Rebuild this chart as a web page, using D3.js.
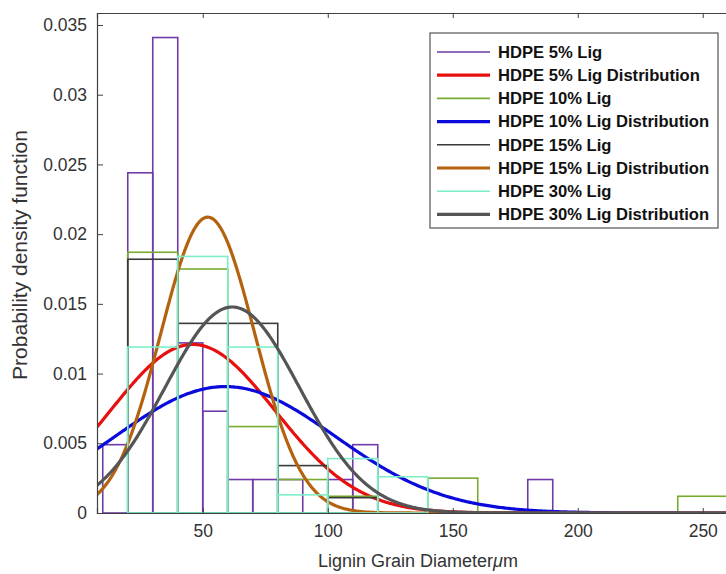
<!DOCTYPE html>
<html>
<head>
<meta charset="utf-8">
<script src="https://cdn.jsdelivr.net/npm/d3@7"></script>
<style>
  html, body { margin: 0; padding: 0; background: #fff; }
  svg { display: block; }
  text { font-family: Arial, "Liberation Sans", sans-serif; }
</style>
</head>
<body>
<svg id="chart" width="726" height="574"></svg>
<script>
// ---- Data ----
// HDPE 5% Lig histogram: bin edges (µm) and PDF values
const edges5 = [10, 20, 30, 40, 50, 60, 70, 80, 90, 100, 110, 120, 130, 140, 150, 160, 170, 180, 190];
const values5 = [0.0049, 0.0244, 0.0341, 0.0122, 0.0073, 0.0024, 0.0024, 0.0024, 0, 0.0024, 0.0049, 0, 0, 0, 0, 0, 0, 0.0024];
// HDPE 10% Lig histogram
const edges10 = [20, 40, 60, 80, 100, 120, 140, 160, 180, 200, 220, 240, 260];
const values10 = [0.0187, 0.0175, 0.0062, 0.0024, 0.0012, 0, 0.0025, 0, 0, 0, 0, 0.0012];
// HDPE 15% Lig histogram
const edges15 = [20, 40, 60, 80, 100, 120];
const values15 = [0.0182, 0.0136, 0.0136, 0.0034, 0.0011];
// HDPE 30% Lig histogram
const edges30 = [20, 40, 60, 80, 100, 120, 140];
const values30 = [0.0119, 0.0184, 0.0119, 0.0013, 0.0039, 0.0026];

// Fitted normal distributions: mean and standard deviation (µm)
const distNames = ["HDPE 5% Lig Distribution", "HDPE 10% Lig Distribution", "HDPE 15% Lig Distribution", "HDPE 30% Lig Distribution"];
const distMu = [46, 59, 52, 61.8];
const distSigma = [33, 44, 18.8, 27];

// Legend entries (in drawing order)
const legendLabels = ["HDPE 5% Lig", "HDPE 5% Lig Distribution", "HDPE 10% Lig", "HDPE 10% Lig Distribution",
                      "HDPE 15% Lig", "HDPE 15% Lig Distribution", "HDPE 30% Lig", "HDPE 30% Lig Distribution"];

// Axis ticks
const xTicks = [50, 100, 150, 200, 250];
const yTicks = [0, 0.005, 0.01, 0.015, 0.02, 0.025, 0.03, 0.035];
const yTickLabels = ["0", "0.005", "0.01", "0.015", "0.02", "0.025", "0.03", "0.035"];

// ---- Styles ----
const colHist = ["#6E3BA8", "#77AC30", "#3a3a3a", "#7DEFC8"];
const colDist = ["#E8100F", "#0A0ADC", "#B5620F", "#555555"];

// ---- Layout ----
const mLeft = 97, mTop = 13, mBottom = 513;
const xMin = 7.7, xMax = 264;
const x = d3.scaleLinear().domain([xMin, xMax]).range([mLeft, mLeft + (xMax - xMin) * 2.5]);
const y = d3.scaleLinear().domain([0, 0.03586]).range([mBottom, mTop]);
const plotRight = x(xMax);

const svg = d3.select("#chart");
svg.append("defs").append("clipPath").attr("id", "clip")
  .append("rect").attr("x", mLeft).attr("y", mTop).attr("width", plotRight - mLeft).attr("height", mBottom - mTop);

const plot = svg.append("g").attr("clip-path", "url(#clip)");

function drawHist(edges, values, color) {
  const bins = values.map((v, i) => ({x0: edges[i], x1: edges[i + 1], v})).filter(b => b.v > 0);
  plot.append("g").selectAll("rect").data(bins).join("rect")
    .attr("x", d => x(d.x0)).attr("y", d => y(d.v))
    .attr("width", d => x(d.x1) - x(d.x0)).attr("height", d => y(0) - y(d.v))
    .attr("fill", "none").attr("stroke", color).attr("stroke-width", 1.6);
}
const xs = d3.range(0, 401).map(i => xMin + (xMax - xMin) * i / 400);
function drawDist(mu, sigma, color) {
  const pdf = t => Math.exp(-((t - mu) ** 2) / (2 * sigma * sigma)) / (sigma * Math.sqrt(2 * Math.PI));
  const line = d3.line().x(t => x(t)).y(t => y(pdf(t)));
  plot.append("path").datum(xs).attr("d", line)
    .attr("fill", "none").attr("stroke", color).attr("stroke-width", 3.2).attr("stroke-linejoin", "round");
}

drawHist(edges5, values5, colHist[0]);
drawDist(distMu[0], distSigma[0], colDist[0]);
drawHist(edges10, values10, colHist[1]);
drawDist(distMu[1], distSigma[1], colDist[1]);
drawHist(edges15, values15, colHist[2]);
drawDist(distMu[2], distSigma[2], colDist[2]);
drawHist(edges30, values30, colHist[3]);
drawDist(distMu[3], distSigma[3], colDist[3]);

// ---- Axes ----
const axisCol = "#404040";
const textCol = "#333333";
const xAxisB = d3.axisBottom(x).tickValues(xTicks).tickSize(-5).tickPadding(12).tickFormat(d3.format("d"));
const gxb = svg.append("g").attr("transform", `translate(0,${mBottom})`).call(xAxisB);
const xAxisT = d3.axisTop(x).tickValues(xTicks).tickSize(-5).tickFormat("");
const gxt = svg.append("g").attr("transform", `translate(0,${mTop})`).call(xAxisT);
const yAxisL = d3.axisLeft(y).tickValues(yTicks).tickSize(-6).tickPadding(10).tickFormat((d, i) => yTickLabels[i]);
const gyl = svg.append("g").attr("transform", `translate(${mLeft},0)`).call(yAxisL);

[gxb, gxt, gyl].forEach(g => {
  g.select(".domain").attr("stroke", axisCol).attr("stroke-width", 1.2);
  g.selectAll(".tick line").attr("stroke", axisCol).attr("stroke-width", 1);
  g.selectAll(".tick text").attr("fill", textCol).attr("font-size", 17.5).attr("font-family", "Arial, 'Liberation Sans', sans-serif");
});

// Axis titles
svg.append("text").attr("x", 418).attr("y", 567).attr("text-anchor", "middle")
  .attr("fill", textCol).attr("font-size", 18)
  .call(t => { t.append("tspan").text("Lignin Grain Diameter"); t.append("tspan").attr("font-style", "italic").text("\u03BC"); t.append("tspan").text("m"); });
svg.append("text").attr("transform", `translate(27,255) rotate(-90)`)
  .attr("text-anchor", "middle").attr("fill", textCol).attr("font-size", 21)
  .text("Probability density function");

// ---- Legend ----
const lg = svg.append("g");
lg.append("rect").attr("x", 430).attr("y", 33).attr("width", 288).attr("height", 195)
  .attr("fill", "#fff").attr("stroke", "#555").attr("stroke-width", 1.2);
const legendColors = [colHist[0], colDist[0], colHist[1], colDist[1], colHist[2], colDist[2], colHist[3], colDist[3]];
const rows = lg.selectAll("g.row").data(legendLabels).join("g").attr("class", "row")
  .attr("transform", (d, i) => `translate(0,${52 + i * 23.2})`);
rows.append("line").attr("x1", 437).attr("x2", 490).attr("y1", 0).attr("y2", 0)
  .attr("stroke", (d, i) => legendColors[i]).attr("stroke-width", (d, i) => i % 2 ? 3.2 : 1.6);
rows.append("text").attr("x", 498).attr("y", 0).attr("dy", "0.35em")
  .attr("font-size", 16.6).attr("font-weight", "bold").attr("fill", "#111")
  .text(d => d);
</script>
</body>
</html>
